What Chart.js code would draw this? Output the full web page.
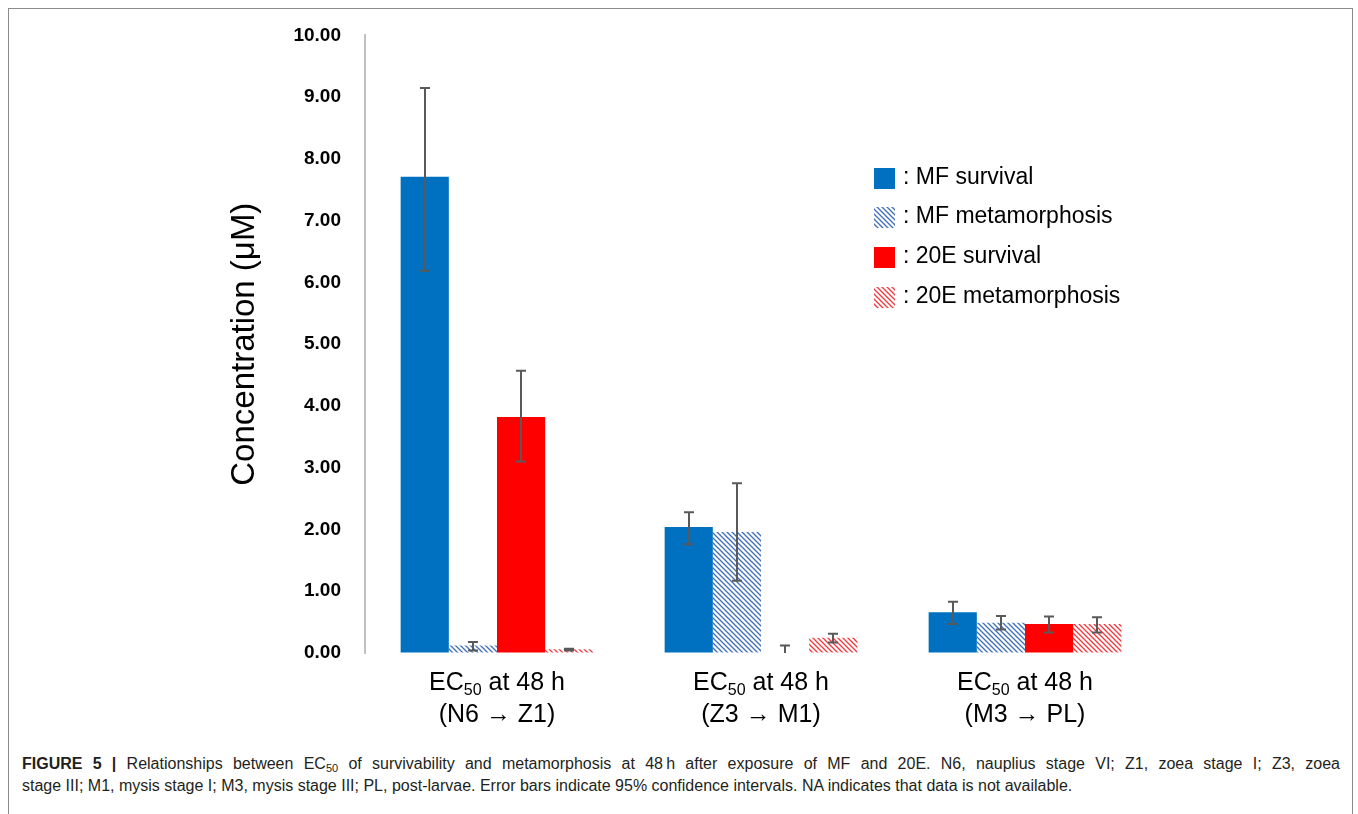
<!DOCTYPE html>
<html>
<head>
<meta charset="utf-8">
<script src="https://cdn.jsdelivr.net/npm/chart.js@4.4.1/dist/chart.umd.min.js"></script>
<style>
    body { margin: 0; background: #fff; width: 1358px; height: 814px; overflow: hidden; position: relative; font-family: "Liberation Sans", Arial, sans-serif; }
    #frame { position: absolute; left: 8px; top: 8px; width: 1343px; height: 830px; border: 1px solid #8c8c8c; }
    #chartBox { position: absolute; left: 0; top: 0; width: 1358px; height: 740px; }
    #caption { position: absolute; left: 22px; top: 753px; width: 1318px; font-size: 16px; line-height: 22px; color: #231f20; }
    #caption .l1 { text-align: justify; text-align-last: justify; white-space: nowrap; }
    #caption sub { font-size: 11px; vertical-align: -3px; line-height: 0; }
</style>
</head>
<body>
<div id="frame"></div>
<div id="chartBox"><canvas id="MyChart1"></canvas></div>
<div id="caption">
    <div class="l1"><b>FIGURE 5 |</b> Relationships between EC<sub>50</sub> of survivability and metamorphosis at 48&#8201;h after exposure of MF and 20E. N6, nauplius stage VI; Z1, zoea stage I; Z3, zoea</div>
    <div>stage III; M1, mysis stage I; M3, mysis stage III; PL, post-larvae. Error bars indicate 95% confidence intervals. NA indicates that data is not available.</div>
</div>
<script>
// stages (x categories)
var Stages = ['(N6 \u2192 Z1)', '(Z3 \u2192 M1)', '(M3 \u2192 PL)'];
var SeriesNames = ['MF survival', 'MF metamorphosis', '20E survival', '20E metamorphosis'];

// EC50 values (uM); 20E survival at Z3 -> M1 is NA
var MFSurv = [7.71, 2.04, 0.66];
var MFMeta = [0.12, 1.96, 0.49];
var E20Surv = [3.82, 0, 0.47];
var E20Meta = [0.06, 0.245, 0.47];

// 95% confidence intervals
var MFSurvLow = [6.19, 1.76, 0.47];
var MFSurvHigh = [9.15, 2.28, 0.83];
var MFMetaLow = [0.04, 1.17, 0.38];
var MFMetaHigh = [0.18, 2.75, 0.60];
var E20SurvLow = [3.10, 0, 0.33];
var E20SurvHigh = [4.57, 0.12, 0.59];
var E20MetaLow = [0.04, 0.17, 0.33];
var E20MetaHigh = [0.07, 0.31, 0.58];

var YTicks = [0, 1, 2, 3, 4, 5, 6, 7, 8, 9, 10];

function hatch(color) {
    var c = document.createElement('canvas');
    c.width = 5;
    c.height = 5;
    var g = c.getContext('2d');
    g.fillStyle = '#ffffff';
    g.fillRect(0, 0, 5, 5);
    g.strokeStyle = color;
    g.lineWidth = 1.3;
    g.beginPath();
    g.moveTo(-1, -1); g.lineTo(6, 6);
    g.moveTo(-1, 4); g.lineTo(1, 6);
    g.moveTo(4, -1); g.lineTo(6, 1);
    g.stroke();
    return g.createPattern(c, 'repeat');
}

var blueHatch = hatch('#3f6fb8');
var redHatch = hatch('#ee3a3f');

// error bars, stage labels and the legend are drawn by hand
var extras = {
    id: 'extras',
    afterDatasetsDraw: function (chart) {
        var ctx = chart.ctx;
        var y = chart.scales.y;
        var lows = [MFSurvLow, MFMetaLow, E20SurvLow, E20MetaLow];
        var highs = [MFSurvHigh, MFMetaHigh, E20SurvHigh, E20MetaHigh];
        ctx.save();
        ctx.strokeStyle = '#595959';
        ctx.lineWidth = 2;
        for (var d = 0; d < 4; d++) {
            var meta = chart.getDatasetMeta(d);
            meta.data.forEach(function (bar, i) {
                var x = Math.round(bar.x);
                var v = chart.data.datasets[d].data[i];
                var yh = y.getPixelForValue(highs[d][i]);
                var yl = y.getPixelForValue(lows[d][i]);
                ctx.beginPath();
                ctx.moveTo(x, yh);
                ctx.lineTo(x, yl);
                ctx.moveTo(x - 5, yh);
                ctx.lineTo(x + 5, yh);
                if (lows[d][i] < v) {
                    ctx.moveTo(x - 5, yl);
                    ctx.lineTo(x + 5, yl);
                }
                ctx.stroke();
            });
        }
        ctx.restore();
    },
    afterDraw: function (chart) {
        var ctx = chart.ctx;
        var xs = chart.scales.x;
        var big = '25px "Liberation Sans", Arial';
        var small = '16px "Liberation Sans", Arial';
        ctx.save();
        ctx.fillStyle = '#000';
        ctx.textBaseline = 'middle';
        Stages.forEach(function (s, i) {
            var cx = xs.getPixelForValue(i);
            ctx.font = big;
            var wEC = ctx.measureText('EC').width;
            var wRest = ctx.measureText(' at 48 h').width;
            ctx.font = small;
            var wSub = ctx.measureText('50').width;
            var x0 = cx - (wEC + wSub + wRest) / 2;
            ctx.textAlign = 'left';
            ctx.font = big;
            ctx.fillText('EC', x0, 683);
            ctx.font = small;
            ctx.fillText('50', x0 + wEC, 691);
            ctx.font = big;
            ctx.fillText(' at 48 h', x0 + wEC + wSub, 683);
            ctx.textAlign = 'center';
            ctx.fillText(s, cx, 715);
        });

        // legend
        var rows = [178, 217, 257, 297];
        ctx.textAlign = 'left';
        ctx.font = '23px "Liberation Sans", Arial';
        chart.data.datasets.forEach(function (ds, i) {
            ctx.fillStyle = ds.backgroundColor;
            ctx.fillRect(874, rows[i] - 10, 21, 21);
            ctx.fillStyle = '#000';
            ctx.fillText(': ' + ds.label, 903, rows[i]);
        });
        ctx.restore();
    }
};

var ctx = document.getElementById('MyChart1').getContext('2d');
var config = {
    type: 'bar',
    data: {
        labels: Stages,
        datasets: [
            { label: SeriesNames[0], data: MFSurv, backgroundColor: '#0070c0' },
            { label: SeriesNames[1], data: MFMeta, backgroundColor: blueHatch },
            { label: SeriesNames[2], data: E20Surv, backgroundColor: '#ff0000' },
            { label: SeriesNames[3], data: E20Meta, backgroundColor: redHatch }
        ]
    },
    options: {
        responsive: true,
        maintainAspectRatio: false,
        animation: false,
        categoryPercentage: 0.73,
        barPercentage: 1.0,
        layout: { padding: { left: 0, top: 32, right: 201, bottom: 0 } },
        plugins: {
            legend: { display: false },
            tooltip: { enabled: false }
        },
        scales: {
            x: {
                ticks: { display: false },
                grid: { display: false },
                border: { display: false },
                afterFit: function (scale) { scale.height = 87; }
            },
            y: {
                min: 0,
                max: 10,
                afterBuildTicks: function (scale) {
                    scale.ticks = YTicks.map(function (v) { return { value: v }; });
                },
                ticks: {
                    padding: 24,
                    color: '#000',
                    font: { family: '"Liberation Sans", Arial', size: 19, weight: 'bold' },
                    callback: function (v) { return v.toFixed(2); }
                },
                grid: { drawOnChartArea: false, drawTicks: false },
                border: { display: true, color: '#c0c0c0', width: 2 },
                title: {
                    display: true,
                    text: 'Concentration (\u03bcM)',
                    color: '#000',
                    font: { family: '"Liberation Sans", Arial', size: 33 },
                    padding: { top: 225, bottom: 0 }
                },
                afterFit: function (scale) { scale.width = 365; }
            }
        }
    },
    plugins: [extras]
};
window.bar = new Chart(ctx, config);
</script>
</body>
</html>
